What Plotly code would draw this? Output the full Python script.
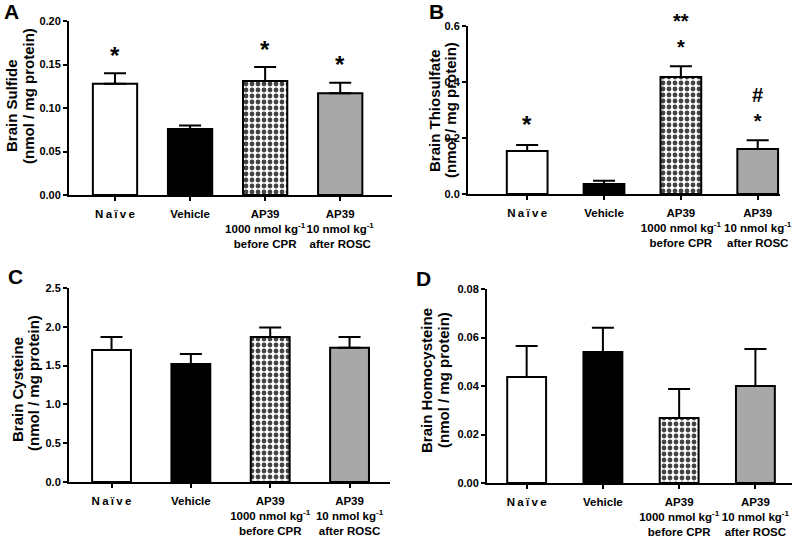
import plotly.graph_objects as go

# ---------------- data ----------------
categories = ["Naive", "Vehicle", "AP39 1000", "AP39 10"]
tick_labels = [
    "N\u2009a\u2009ï\u2009v\u2009e",
    "Vehicle",
    "AP39<br>1000 nmol kg<sup>-1</sup><br>before CPR",
    "AP39<br>10 nmol kg<sup>-1</sup><br>after ROSC",
]

sulfide_mean = [0.128, 0.076, 0.131, 0.117]
sulfide_sem = [0.012, 0.004, 0.016, 0.012]
sulfide_marks = ["*", "", "*", "*"]

thio_mean = [0.154, 0.036, 0.418, 0.161]
thio_sem = [0.021, 0.011, 0.038, 0.031]
thio_marks = ["*", "", "**<br>*", "#<br>*"]

cys_mean = [1.70, 1.52, 1.87, 1.73]
cys_sem = [0.17, 0.13, 0.12, 0.14]

hcy_mean = [0.0437, 0.0540, 0.0268, 0.0400]
hcy_sem = [0.0128, 0.0100, 0.0120, 0.0153]

# ---------------- style ----------------
FONT = "Liberation Sans, Arial, sans-serif"
bar_colors = ["white", "black", "white", "#a8a8a8"]
bar_patterns = ["", "", ".", ""]

W, H = 800, 537


def px_x(v):
    return v / W


def px_y(v):
    return 1 - v / H


panels = [
    dict(name="A", mean=sulfide_mean, sem=sulfide_sem, ymax=0.20, dtick=0.05, fmt=".2f",
         xdom=[69, 392], ydom=[21, 195], xr=[-0.613, 3.69], bw=0.59,
         title1="Brain Sulfide", t1=(11, 106), t2=(28, 96), letter=(11, 11)),
    dict(name="B", mean=thio_mean, sem=thio_sem, ymax=0.6, dtick=0.2, fmt=".1f",
         xdom=[468, 780], ydom=[26, 194], xr=[-0.77, 3.29], bw=0.53,
         title1="Brain Thiosulfate", t1=(434, 111), t2=(450, 110), letter=(436, 12)),
    dict(name="C", mean=cys_mean, sem=cys_sem, ymax=2.5, dtick=0.5, fmt=".1f",
         xdom=[69, 390], ydom=[288, 482], xr=[-0.536, 3.51], bw=0.49,
         title1="Brain Cysteine", t1=(17, 390), t2=(33, 383), letter=(15, 276)),
    dict(name="D", mean=hcy_mean, sem=hcy_sem, ymax=0.08, dtick=0.02, fmt=".2f",
         xdom=[487, 792], ydom=[289, 483], xr=[-0.52, 3.48], bw=0.51,
         title1="Brain Homocysteine", t1=(426, 381), t2=(443, 380), letter=(423, 278)),
]

fig = go.Figure()
annotations = []
layout = {}

for i, p in enumerate(panels):
    n = "" if i == 0 else str(i + 1)
    xa, ya = "x" + n, "y" + n
    fig.add_trace(go.Bar(
        x=categories, y=p["mean"], xaxis=xa, yaxis=ya, width=p["bw"],
        marker=dict(color=bar_colors, line=dict(color="black", width=2),
                    pattern=dict(shape=bar_patterns, fgcolor="black", fgopacity=1,
                                 size=6, solidity=0.5, fillmode="overlay")),
        error_y=dict(type="data", symmetric=False, array=p["sem"],
                     arrayminus=[0] * len(p["sem"]), color="black", thickness=2, width=11),
        showlegend=False, hoverinfo="skip",
    ))
    layout["xaxis" + n] = dict(
        domain=[px_x(p["xdom"][0]), px_x(p["xdom"][1])], anchor=ya,
        range=p["xr"], type="category", tickmode="array",
        tickvals=categories, ticktext=tick_labels, tickangle=0, automargin=False,
        showline=True, linecolor="black", linewidth=2, mirror=False,
        ticks="outside", ticklen=4, tickwidth=1.5, tickcolor="black",
        showgrid=False, zeroline=False, ticklabelstandoff=3,
        tickfont=dict(family=FONT, size=11.5, color="black", weight="bold"),
    )
    layout["yaxis" + n] = dict(
        domain=[px_y(p["ydom"][1]), px_y(p["ydom"][0])], anchor=xa, automargin=False,
        range=[0, p["ymax"]], dtick=p["dtick"], tick0=0, tickformat=p["fmt"],
        showline=True, linecolor="black", linewidth=2,
        ticks="outside", ticklen=4, tickwidth=1.5, tickcolor="black",
        showgrid=False, zeroline=False,
        tickfont=dict(family=FONT, size=11, color="black", weight="bold"),
    )
    # axis titles
    annotations.append(dict(text=p["title1"], xref="paper", yref="paper",
                            x=px_x(p["t1"][0]), y=px_y(p["t1"][1]), textangle=-90,
                            showarrow=False, xanchor="center", yanchor="middle",
                            font=dict(family=FONT, size=15, color="black", weight="bold")))
    annotations.append(dict(text="(nmol / mg protein)", xref="paper", yref="paper",
                            x=px_x(p["t2"][0]), y=px_y(p["t2"][1]), textangle=-90,
                            showarrow=False, xanchor="center", yanchor="middle",
                            font=dict(family=FONT, size=15, color="black", weight="bold")))
    annotations.append(dict(text=p["name"], xref="paper", yref="paper",
                            x=px_x(p["letter"][0]), y=px_y(p["letter"][1]),
                            showarrow=False, xanchor="center", yanchor="middle",
                            font=dict(family=FONT, size=21, color="black", weight="bold")))


def add_marks(marks, means, sems, xa, ya):
    for c, m, s, t in zip(categories, means, sems, marks):
        if not t:
            continue
        if "<br>" in t:
            annotations.append(dict(text=t, x=c, y=m + s, xref=xa, yref=ya,
                                    showarrow=False, xanchor="center", yanchor="bottom",
                                    yshift=6,
                                    font=dict(family=FONT, size=20, color="black", weight="bold")))
        else:
            annotations.append(dict(text=t, x=c, y=m + s, xref=xa, yref=ya,
                                    showarrow=False, xanchor="center", yanchor="middle",
                                    yshift=18 if xa == "x" else 20,
                                    font=dict(family=FONT, size=24, color="black", weight="bold")))


add_marks(sulfide_marks, sulfide_mean, sulfide_sem, "x", "y")
add_marks(thio_marks, thio_mean, thio_sem, "x2", "y2")

fig.update_layout(
    width=W, height=H, margin=dict(l=0, r=0, t=0, b=0),
    paper_bgcolor="white", plot_bgcolor="white",
    annotations=annotations, bargap=0.3,
    font=dict(family=FONT, color="black"),
    **layout,
)

fig.write_html("out.html", config={"displayModeBar": False},
               post_script="document.body.style.margin='0';document.body.style.overflow='hidden';")
